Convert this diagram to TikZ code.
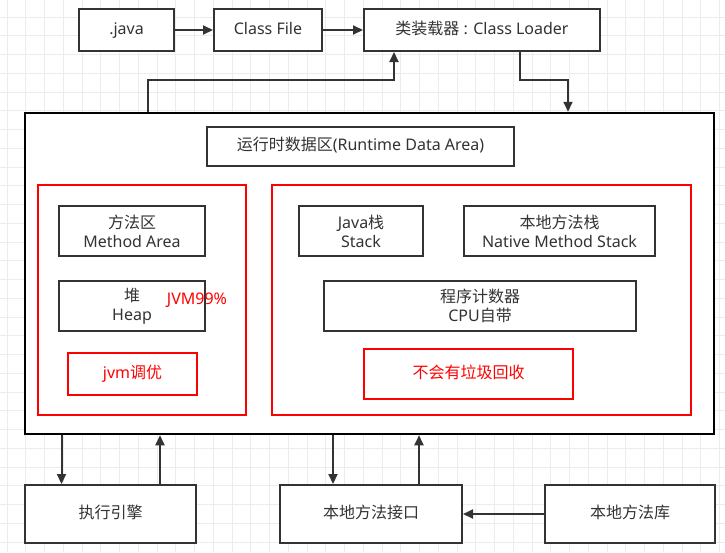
\documentclass[tikz,border=0pt]{standalone}
\usepackage{fontspec}
\setmainfont{Noto Sans}
\newfontfamily\zhfont{Noto Sans CJK SC}
\newcommand\zh[1]{{\zhfont #1}}
\usetikzlibrary{arrows.meta}

\definecolor{boxgray}{RGB}{51,51,51}
\definecolor{gridgray}{RGB}{236,236,236}
\definecolor{jvmred}{RGB}{255,0,0}

\tikzset{
  blk/.style={draw=boxgray, line width=2pt, fill=white, text=boxgray, align=center,
    inner sep=0pt, font=\fontsize{16}{19}\selectfont},
  redframe/.style={blk, draw=jvmred, text=jvmred},
  oneline/.style={text height=12pt, text depth=4pt},
  flow/.style={draw=boxgray, line width=2pt, -{Triangle[length=10pt,width=9pt]}},
}

\begin{document}
\begin{tikzpicture}[x=1pt,y=-1pt]
  \useasboundingbox (0,0) rectangle (725,552);

  % background grid
  \foreach \gx in {7,25.75,...,725} \draw[gridgray, line width=1pt] (\gx,0) -- (\gx,552);
  \foreach \gy in {17,35.75,...,552} \draw[gridgray, line width=1pt] (0,\gy) -- (725,\gy);

  % loading chain
  \node[blk, oneline, minimum width=95pt, minimum height=42pt] (java) at (126.5,30) {.java};
  \node[blk, oneline, minimum width=108pt, minimum height=42pt] (classfile) at (268,30) {Class File};
  \node[blk, oneline, minimum width=236pt, minimum height=42pt] (loader) at (482,30) {\zh{类装载器} : Class Loader};

  % runtime data area
  \node[blk, draw=black, line width=2.5pt, minimum width=689pt, minimum height=321pt] (jvm) at (369.5,273.5) {};
  \node[blk, oneline, minimum width=307pt, minimum height=39pt] (runtime) at (360.5,146.5) {\zh{运行时数据区}(Runtime Data Area)};
  \node[redframe, minimum width=208pt, minimum height=230pt] (shared) at (142,300) {};
  \node[redframe, minimum width=419pt, minimum height=230pt] (private) at (481.5,300) {};

  % shared by threads
  \node[blk, minimum width=146pt, minimum height=50pt] (method) at (132,231) {\zh{方法区}\\Method Area};
  \node[blk, minimum width=146pt, minimum height=50pt] (heap) at (132,306) {\zh{堆}\\Heap};
  \node[text=jvmred, inner sep=0pt, font=\fontsize{16}{19}\selectfont] (heapshare) at (197,300) {JVM99\%};
  \node[redframe, oneline, minimum width=129pt, minimum height=42pt] (tuning) at (132.5,374) {jvm\zh{调优}};

  % per thread
  \node[blk, minimum width=124pt, minimum height=50pt] (jstack) at (361,231) {Java\zh{栈}\\Stack};
  \node[blk, minimum width=191pt, minimum height=50pt] (nstack) at (559.5,231) {\zh{本地方法栈}\\Native Method Stack};
  \node[blk, minimum width=312pt, minimum height=50pt] (pc) at (480,306) {\zh{程序计数器}\\CPU\zh{自带}};
  \node[redframe, oneline, minimum width=209pt, minimum height=50pt] (nogc) at (468.5,374) {\zh{不会有垃圾回收}};

  % engine and native side
  \node[blk, oneline, minimum width=171pt, minimum height=58pt] (engine) at (110.5,514) {\zh{执行引擎}};
  \node[blk, oneline, minimum width=182pt, minimum height=58pt] (nif) at (371,514) {\zh{本地方法接口}};
  \node[blk, oneline, minimum width=170pt, minimum height=58pt] (nlib) at (630,514) {\zh{本地方法库}};

  % connectors
  \draw[flow] (java) -- (classfile);
  \draw[flow] (classfile) -- (loader);
  \coordinate (lift) at (148,80);
  \coordinate (drop) at (568,80);
  \draw[flow] (lift |- jvm.north) -- (lift) -| ([xshift=-88pt]loader.south);
  \draw[flow] ([xshift=38pt]loader.south) |- (drop) -- (drop |- jvm.north);

  \coordinate (e1) at (61.5,0);
  \coordinate (e2) at (160,0);
  \coordinate (n1) at (333,0);
  \coordinate (n2) at (419,0);
  \draw[flow] (e1 |- jvm.south) -- (e1 |- engine.north);
  \draw[flow] (e2 |- engine.north) -- (e2 |- jvm.south);
  \draw[flow] (n1 |- jvm.south) -- (n1 |- nif.north);
  \draw[flow] (n2 |- nif.north) -- (n2 |- jvm.south);
  \draw[flow] (nlib) -- (nif);

\end{tikzpicture}
\end{document}
